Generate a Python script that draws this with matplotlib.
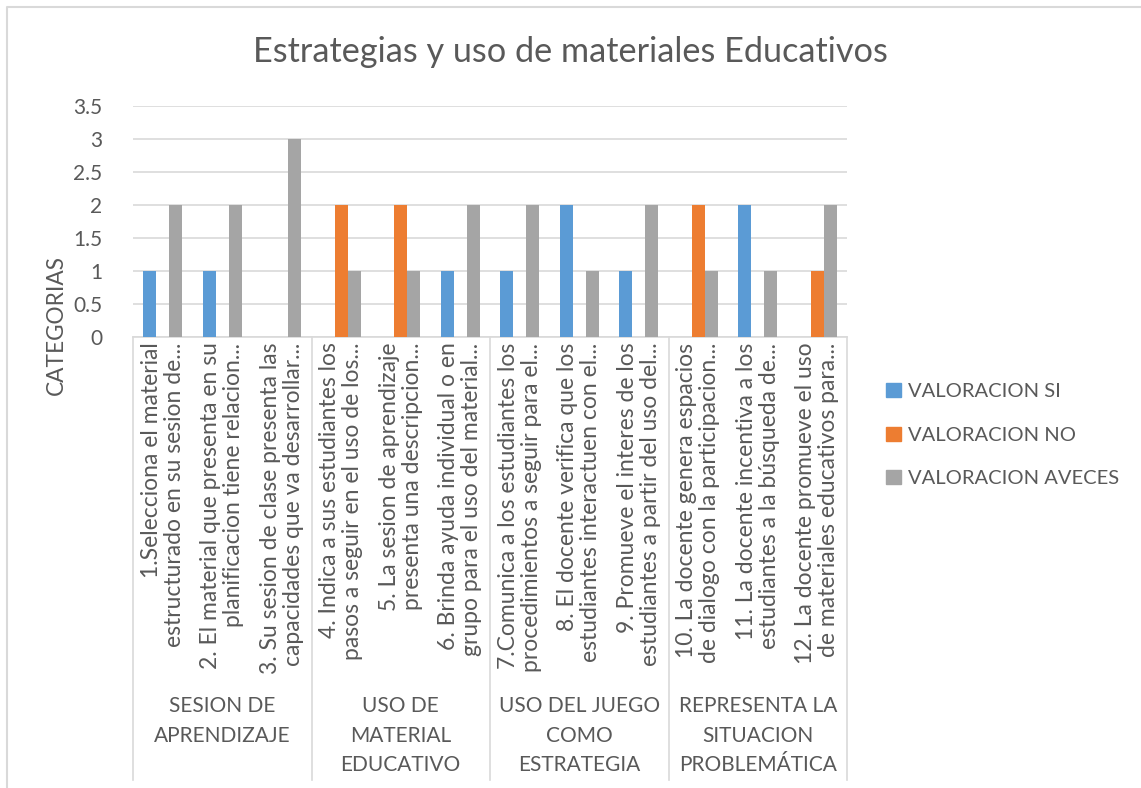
import numpy as np
import matplotlib.pyplot as plt
from matplotlib.lines import Line2D
from matplotlib.patches import Patch
from matplotlib.transforms import blended_transform_factory

plt.rcParams['font.family'] = ['Lato', 'DejaVu Sans']

# data
items = [
    "1.Selecciona el material\nestructurado en su sesion de...",
    "2. El material que presenta en su\nplanificacion tiene relacion...",
    "3. Su sesion de clase presenta las\ncapacidades que va desarrollar...",
    "4. Indica a sus estudiantes los\npasos a seguir en el uso de los...",
    "5. La sesion de aprendizaje\npresenta una descripcion...",
    "6. Brinda ayuda individual o en\ngrupo para el uso del material...",
    "7.Comunica a los estudiantes los\nprocedimientos a seguir para el...",
    "8. El docente verifica que los\nestudiantes interactuen con el...",
    "9. Promueve el interes de los\nestudiantes a partir del uso del...",
    "10. La docente genera espacios\nde dialogo con la participacion...",
    "11. La docente incentiva a los\nestudiantes a la búsqueda de...",
    "12. La docente promueve el uso\nde materiales educativos para...",
]
groups = ["SESION DE\nAPRENDIZAJE", "USO DE\nMATERIAL\nEDUCATIVO",
          "USO DEL JUEGO\nCOMO\nESTRATEGIA", "REPRESENTA LA\nSITUACION\nPROBLEMÁTICA"]
valoracion_si = [1, 1, 0, 0, 0, 1, 1, 2, 1, 0, 2, 0]
valoracion_no = [0, 0, 0, 2, 2, 0, 0, 0, 0, 2, 0, 1]
valoracion_aveces = [2, 2, 3, 1, 1, 2, 2, 1, 2, 1, 1, 2]
series_names = ["VALORACION SI", "VALORACION NO", "VALORACION AVECES"]
colors = ["#5B9BD5", "#ED7D31", "#A5A5A5"]

text_col = "#595959"
grid_col = "#D9D9D9"

W, H = 1141, 788
fig = plt.figure(figsize=(W / 100, H / 100), dpi=100)
ax = fig.add_axes([133 / W, 1 - 337 / H, (847 - 133) / W, (337 - 106) / H])

x = np.arange(len(items))
bw = 0.22
for i, vals in enumerate([valoracion_si, valoracion_no, valoracion_aveces]):
    ax.bar(x + (i - 1) * bw, vals, width=bw, color=colors[i], zorder=3)

ax.set_xlim(-0.5, len(items) - 0.5)
ax.set_ylim(0, 3.5)
ax.set_yticks(np.arange(0, 3.51, 0.5))
ax.set_yticklabels(["0", "0.5", "1", "1.5", "2", "2.5", "3", "3.5"])
ax.grid(axis='y', color=grid_col, linewidth=1.2, zorder=0)
for s in ['top', 'right', 'left']:
    ax.spines[s].set_visible(False)
ax.spines['bottom'].set_color(grid_col)
ax.spines['bottom'].set_linewidth(1.2)
ax.tick_params(axis='y', length=0, pad=22, labelsize=15, labelcolor=text_col)
ax.tick_params(axis='x', length=0, pad=4, labelsize=16.5, labelcolor=text_col)
ax.set_xticks(x)
ax.set_xticklabels(items, rotation=90, rotation_mode='anchor', ha='right',
                   va='center', multialignment='right')
for lab in ax.get_xticklabels():
    lab.set_linespacing(1.1)

# group labels and separators under the axis
tr = blended_transform_factory(ax.transData, fig.transFigure)
y_top = 1 - 337 / H
y_bot = 1 - 780 / H
for k in range(len(groups) + 1):
    ax.add_line(Line2D([k * 3 - 0.5] * 2, [y_top, y_bot], transform=tr,
                       color=grid_col, linewidth=1.2, clip_on=False))
for k, g in enumerate(groups):
    ax.text(k * 3 + 1, 1 - 696 / H, g, transform=tr, ha='center', va='top',
            fontsize=15, color=text_col, linespacing=1.6)

fig.text(0.5, 1 - 52 / H, "Estrategias y uso de materiales Educativos",
         ha='center', va='center', fontsize=24.7, color=text_col)
fig.text(56 / W, 1 - 325 / H, "CATEGORIAS", rotation=90, ha='center',
         va='center', fontsize=16.3, color=text_col)

handles = [Patch(color=c) for c in colors]
fig.legend(handles, series_names, loc='upper left',
           bbox_to_anchor=(868 / W, 1 - 365 / H), frameon=False,
           fontsize=14.5, labelcolor=text_col, handlelength=0.72,
           handleheight=0.72, handletextpad=0.35, labelspacing=1.3)

# chart area border (left and top edges visible)
fig.add_artist(Line2D([7 / W, 7 / W, 1.0], [0.0, 1 - 7 / H, 1 - 7 / H],
                      transform=fig.transFigure, color=grid_col, linewidth=1.5))

fig.savefig("out.png", dpi=100, facecolor='white')
